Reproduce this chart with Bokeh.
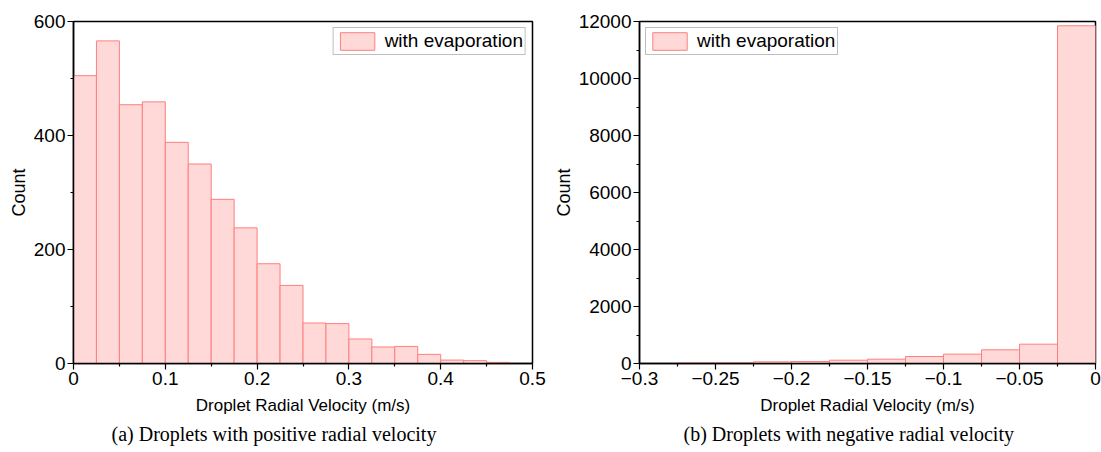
from bokeh.plotting import figure
from bokeh.layouts import row
from bokeh.models import FixedTicker, Title, Range1d
from bokeh.embed import file_html
from bokeh.resources import INLINE

# ---- data: (a) positive radial velocity ----
pos_bin_left = [0.0, 0.025, 0.05, 0.075, 0.1, 0.125, 0.15, 0.175, 0.2, 0.225,
                0.25, 0.275, 0.3, 0.325, 0.35, 0.375, 0.4, 0.425, 0.45]
pos_bin_right = [0.025, 0.05, 0.075, 0.1, 0.125, 0.15, 0.175, 0.2, 0.225, 0.25,
                 0.275, 0.3, 0.325, 0.35, 0.375, 0.4, 0.425, 0.45, 0.475]
pos_counts = [505, 566, 454, 459, 388, 350, 288, 238, 175, 137,
              71, 70, 43, 29, 30, 16, 6, 5, 2]

# ---- data: (b) negative radial velocity ----
neg_bin_left = [-0.3, -0.275, -0.25, -0.225, -0.2, -0.175, -0.15, -0.125,
                -0.1, -0.075, -0.05, -0.025]
neg_bin_right = [-0.275, -0.25, -0.225, -0.2, -0.175, -0.15, -0.125, -0.1,
                 -0.075, -0.05, -0.025, 0.0]
neg_counts = [0, 20, 22, 58, 70, 116, 152, 246, 328, 480, 678, 11850]

# ---- ticks ----
pos_x_ticks = [0, 0.1, 0.2, 0.3, 0.4, 0.5]
pos_x_labels = ["0", "0.1", "0.2", "0.3", "0.4", "0.5"]
pos_y_ticks = [0, 200, 400, 600]
pos_y_labels = ["0", "200", "400", "600"]
neg_x_ticks = [-0.3, -0.25, -0.2, -0.15, -0.1, -0.05, 0]
neg_x_labels = ["\u22120.3", "\u22120.25", "\u22120.2", "\u22120.15", "\u22120.1", "\u22120.05", "0"]
neg_y_ticks = [0, 2000, 4000, 6000, 8000, 10000, 12000]
neg_y_labels = ["0", "2000", "4000", "6000", "8000", "10000", "12000"]

legend_text = "with evaporation"
x_title = "Droplet Radial Velocity (m/s)"
y_title = "Count"
caption_a = "(a) Droplets with positive radial velocity"
caption_b = "(b) Droplets with negative radial velocity"

FILL = "#ffd8d8"
LINE = "#ff7f7f"
SANS = "Liberation Sans"
SERIF = "Liberation Serif"


def minor_between(ticks):
    return [(a + b) / 2 for a, b in zip(ticks[:-1], ticks[1:])]


def make_fig(width, x_rng, y_rng, lefts, rights, counts, xt, xl, yt, yl,
             border_left, border_right, legend_loc, caption, cap_offset):
    p = figure(width=width, height=452, x_range=Range1d(*x_rng), y_range=Range1d(*y_rng),
               output_backend="svg", toolbar_location=None,
               min_border_left=border_left, min_border_right=border_right,
               min_border_top=21, min_border_bottom=89)
    p.grid.visible = False
    p.outline_line_color = "black"
    p.outline_line_width = 1.5
    p.background_fill_color = "white"
    p.border_fill_color = "white"

    p.quad(left=lefts, right=rights, bottom=0, top=counts,
           fill_color=FILL, line_color=LINE, line_width=1,
           legend_label=legend_text)

    p.xaxis.ticker = FixedTicker(ticks=xt, minor_ticks=minor_between(xt))
    p.yaxis.ticker = FixedTicker(ticks=yt, minor_ticks=minor_between(yt))
    p.xaxis.major_label_overrides = dict(zip(xt, xl))
    p.yaxis.major_label_overrides = dict(zip(yt, yl))

    for ax in (p.xaxis, p.yaxis):
        ax.axis_line_width = 1.5
        ax.axis_line_color = "black"
        ax.major_tick_in = 0
        ax.major_tick_out = 6
        ax.minor_tick_in = 0
        ax.minor_tick_out = 3
        ax.major_tick_line_width = 1.2
        ax.minor_tick_line_width = 1.2
        ax.major_label_text_font = SANS
        ax.major_label_text_font_size = "19px"
        ax.major_label_text_color = "black"
        ax.axis_label_text_font = SANS
        ax.axis_label_text_font_size = "17px"
        ax.axis_label_text_font_style = "normal"
        ax.axis_label_text_color = "black"
    p.xaxis.axis_label = x_title
    p.yaxis.axis_label = y_title
    p.yaxis.axis_label_text_font_size = "18px"
    p.xaxis.major_label_standoff = 2
    p.xaxis.axis_label_standoff = 8
    p.yaxis.major_label_standoff = 2
    p.yaxis.axis_label_standoff = 2

    lg = p.legend[0]
    lg.location = legend_loc
    lg.margin = 6
    lg.padding = 2
    lg.spacing = 0
    lg.glyph_width = 43
    lg.glyph_height = 22
    lg.label_standoff = 6
    lg.label_text_font = SANS
    lg.label_text_font_size = "19px"
    lg.label_text_color = "black"
    lg.border_line_color = "#808080"
    lg.border_line_width = 1.2
    lg.background_fill_alpha = 1.0

    t = Title(text=caption, align="left", offset=cap_offset, text_font=SERIF,
              text_font_size="20px", text_font_style="normal", text_color="black",
              standoff=6)
    p.add_layout(t, "below")
    return p


p1 = make_fig(550, (0, 0.5), (0, 600), pos_bin_left, pos_bin_right, pos_counts,
              pos_x_ticks, pos_x_labels, pos_y_ticks, pos_y_labels,
              73, 18, "top_right", caption_a, 38)
p2 = make_fig(551, (-0.3, 0), (0, 12000), neg_bin_left, neg_bin_right, neg_counts,
              neg_x_ticks, neg_x_labels, neg_y_ticks, neg_y_labels,
              88, 6, "top_left", caption_b, 44)

layout = row(p1, p2)
open("out.html", "w").write(file_html(layout, INLINE))
